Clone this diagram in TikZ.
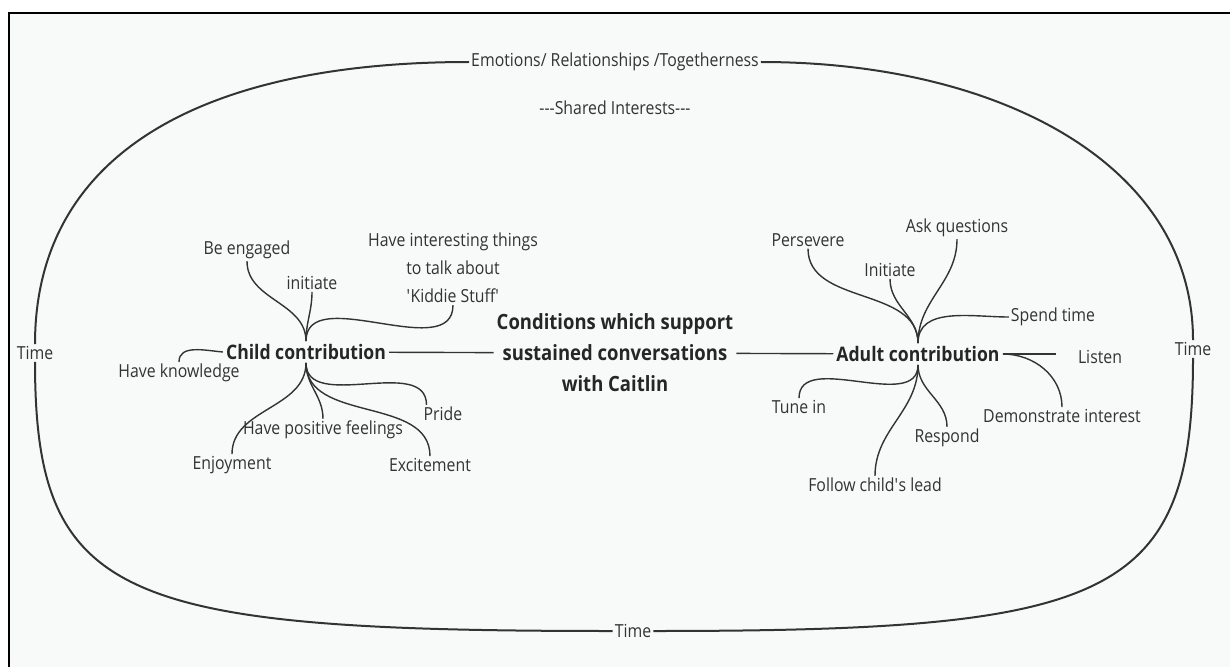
\documentclass[tikz,border=0pt]{standalone}
\usepackage{fontspec}
\setmainfont{Open Sans}[FakeStretch=0.88]
\usepackage{tikz}
\usepackage{xcolor}
\definecolor{inkgray}{HTML}{333333}
\definecolor{pagebg}{HTML}{F8F9F9}
\tikzset{
  item/.style={font=\fontsize{18}{28}\selectfont, text=inkgray, inner sep=2pt, align=center},
  hub/.style={font=\fontsize{20}{24}\selectfont\bfseries, text=black!85, inner sep=3pt},
  ringtext/.style={font=\fontsize{18}{24}\selectfont, text=inkgray, inner sep=2pt},
  branch/.style={line width=1.4pt, draw=inkgray},
  ringline/.style={line width=2pt, draw=inkgray},
  frame/.style={line width=2pt, draw=black},
}

\begin{document}
\begin{tikzpicture}[x=1pt, y=-1pt]
  \useasboundingbox (0,0) rectangle (1230,666);
  % page and frame
  \fill[white] (0,0) rectangle (1230,666);
  \fill[pagebg] (9,13) rectangle (1240,680);
  \draw[frame] (1240,13) -- (9,13) -- (9,680);
  % outer ring labels
  \node[ringtext] (emotions) at (615,62) {Emotions/ Relationships /Togetherness};
  \node[ringtext] (shared) at (615,108) {{-}{-}{-}Shared Interests{-}{-}{-}};
  \node[ringtext] (timel) at (35,353) {Time};
  \node[ringtext] (timer) at (1193,349) {Time};
  \node[ringtext] (timeb) at (633,631) {Time};
  % outer ring
  \draw[ringline] (emotions.west) .. controls (200,62) and (35,155) .. (timel.north);
  \draw[ringline] (timel.south) .. controls (35,600) and (120,631) .. (timeb.west);
  \draw[ringline] (timeb.east) .. controls (1108,631) and (1193,600) .. (timer.south);
  \draw[ringline] (timer.north) .. controls (1193,165) and (1000,62) .. (emotions.east);
  % hubs
  \node[hub] (child) at (306,352) {Child contribution};
  \node[hub, align=center, font=\fontsize{21}{31}\selectfont\bfseries] (cond) at (615,353)
    {Conditions which support\\sustained conversations\\with Caitlin};
  \node[hub] (adult) at (918,354) {Adult contribution};
  \draw[branch] (child) -- (cond);
  \draw[branch] (cond) -- (adult);
  % child side
  \node[item] (engaged) at (247,250) {Be engaged};
  \node[item] (initc) at (312,283) {initiate};
  \node[item] (kiddie) at (453,268) {Have interesting things\\to talk about\\\textquotesingle Kiddie Stuff\textquotesingle};
  \node[item] (knowledge) at (179,373) {Have knowledge};
  \node[item] (pride) at (443,414) {Pride};
  \node[item] (positive) at (323,430) {Have positive feelings};
  \node[item] (enjoy) at (232,465) {Enjoyment};
  \node[item] (excite) at (430,465) {Excitement};
  \draw[branch] (engaged.south) to[out=-90, in=90] (child.north);
  \draw[branch] (initc.south) to[out=-90, in=90] (child.north);
  \draw[branch] (kiddie.south) to[out=-90, in=90] (child.north);
  \draw[branch] (child.west) to[out=175, in=90] (knowledge.north);
  \draw[branch] (child.south) to[out=-90, in=90] (enjoy.north);
  \draw[branch] (child.south) to[out=-90, in=90] (positive.north);
  \draw[branch] (child.south) to[out=-90, in=90] ([xshift=5pt]pride.north west);
  \draw[branch] (child.south) to[out=-90, in=90] (excite.north);
  % adult side
  \node[item] (persevere) at (808,240) {Persevere};
  \node[item] (inita) at (890,270) {Initiate};
  \node[item] (ask) at (957,228) {Ask questions};
  \node[item] (spend) at (1053,317) {Spend time};
  \node[item] (listen) at (1100,357) {Listen};
  \node[item] (tune) at (799,407) {Tune in};
  \node[item] (respond) at (947,438) {Respond};
  \node[item] (demo) at (1062,416) {Demonstrate interest};
  \node[item] (follow) at (875,485) {Follow child\textquotesingle s lead};
  \draw[branch] (persevere.south) to[out=-90, in=90] (adult.north);
  \draw[branch] (inita.south) to[out=-90, in=90] (adult.north);
  \draw[branch] (ask.south) to[out=-90, in=90] (adult.north);
  \draw[branch] (spend.west) to[out=180, in=90] (adult.north);
  \draw[branch, shorten >=20pt] (adult.east) -- (listen.west |- adult.east);
  \draw[branch] (adult.east) to[out=0, in=90] (demo.north);
  \draw[branch] (adult.south) to[out=-90, in=90] (tune.north);
  \draw[branch] (adult.south) to[out=-90, in=90] (respond.north);
  \draw[branch] (adult.south) to[out=-90, in=90] (follow.north);
\end{tikzpicture}
\end{document}
